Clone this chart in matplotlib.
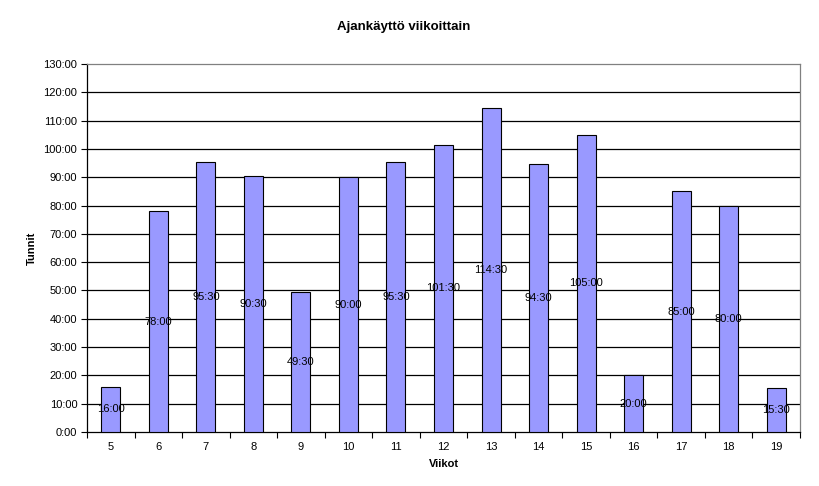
import matplotlib
matplotlib.use("Agg")
import matplotlib.pyplot as plt
import numpy as np

weeks = ["5", "6", "7", "8", "9", "10", "11", "12", "13", "14", "15", "16", "17", "18", "19"]
hours = [16.0, 78.0, 95.5, 90.5, 49.5, 90.0, 95.5, 101.5, 114.5, 94.5, 105.0, 20.0, 85.0, 80.0, 15.5]
yticks = list(range(0, 131, 10))

def fmt(h):
    hh = int(h)
    mm = int(round((h - hh) * 60))
    return f"{hh}:{mm:02d}"

plt.rcParams['font.family'] = ['Liberation Sans', 'DejaVu Sans']

fig = plt.figure(figsize=(8.2, 4.86), dpi=100)
W, H = 820, 486
L, R, T, B = 87, 800, 64, 432
ax = fig.add_axes([L / W, (H - B) / H, (R - L) / W, (B - T) / H])

x = np.arange(len(weeks))
ax.bar(x, hours, width=0.4, color="#9999FF", edgecolor="black", linewidth=0.8, zorder=3)
for xi, h in zip(x, hours):
    ax.text(xi, h / 2, fmt(h), ha="center", va="center", fontsize=8, zorder=4)

ax.set_xlim(-0.5, len(weeks) - 0.5)
ax.set_ylim(0, 130)
ax.set_yticks(yticks)
ax.set_yticklabels([fmt(v) for v in yticks], fontsize=8)
for v in yticks[1:-1]:
    ax.axhline(v, color="black", linewidth=0.9, zorder=1)

ax.set_xticks(x)
ax.set_xticklabels(weeks, fontsize=8)
ax.tick_params(axis="x", length=0, pad=7)
ax.set_xticks(np.arange(-0.5, len(weeks)), minor=True)
ax.tick_params(axis="x", which="minor", length=4, direction="out", width=0.8)
ax.tick_params(axis="y", length=4, direction="out", width=0.8, pad=3)

for s in ["top", "right"]:
    ax.spines[s].set_color("#808080")
    ax.spines[s].set_linewidth(0.9)
for s in ["left", "bottom"]:
    ax.spines[s].set_color("black")
    ax.spines[s].set_linewidth(0.9)

ax.set_xlabel("Viikot", fontsize=8, fontweight="bold", labelpad=5)
ax.set_ylabel("Tunnit", fontsize=8, fontweight="bold", labelpad=5)
fig.text(404 / W, 1 - 27 / H, "Ajankäyttö viikoittain", ha="center", va="center", fontsize=9.5, fontweight="bold")

fig.savefig("out.png", dpi=100)
